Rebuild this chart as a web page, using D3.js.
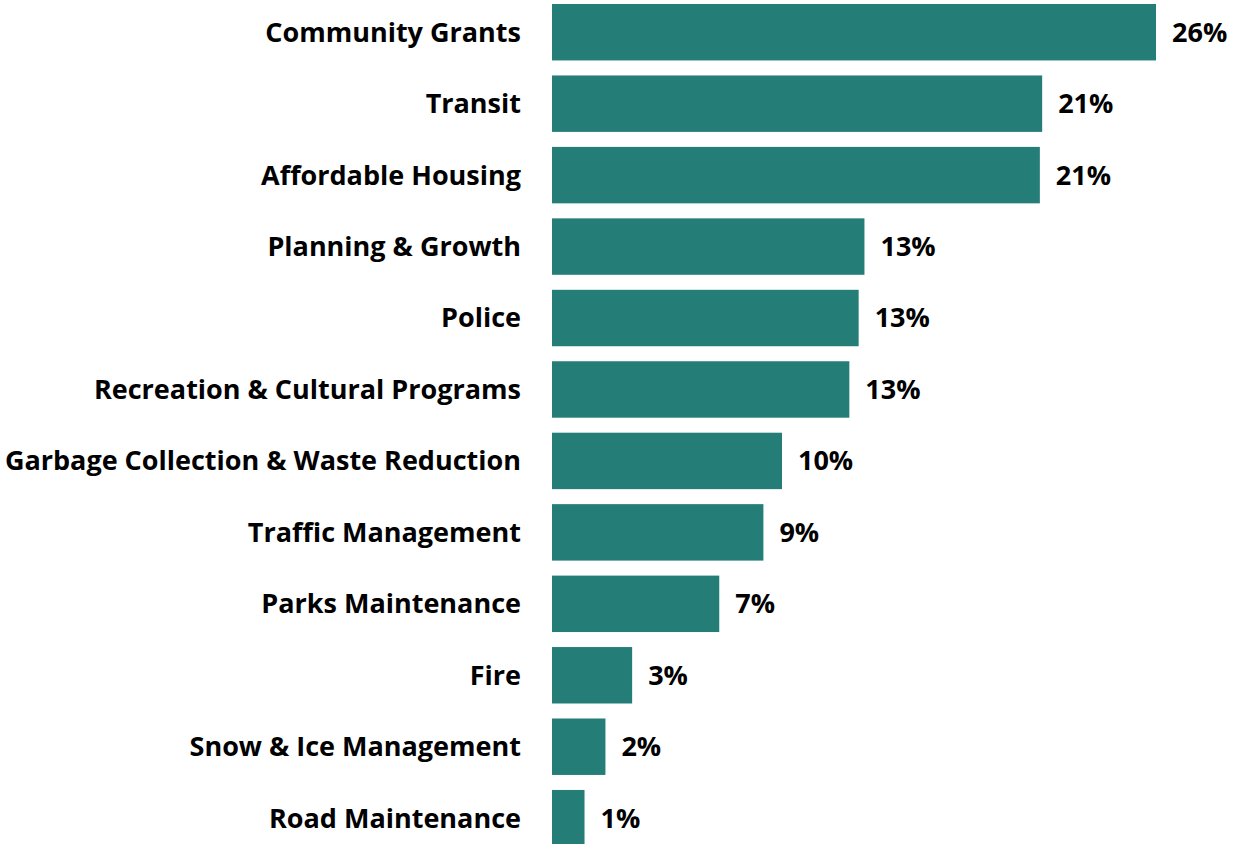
<!DOCTYPE html>
<html>
<head>
<meta charset="utf-8">
<script src="https://cdn.jsdelivr.net/npm/d3@7"></script>
<style>
  html, body { margin: 0; padding: 0; background: #fff; }
  svg text { font-family: "Open Sans", "Noto Sans", sans-serif; font-weight: bold; fill: #000; }
</style>
</head>
<body>
<script>
// categories, top to bottom
var categories = [
  'Community Grants', 'Transit', 'Affordable Housing', 'Planning & Growth',
  'Police', 'Recreation & Cultural Programs', 'Garbage Collection & Waste Reduction',
  'Traffic Management', 'Parks Maintenance', 'Fire', 'Snow & Ice Management',
  'Road Maintenance'
];
// share of respondents (%)
var values = [26.0, 21.1, 21.0, 13.45, 13.2, 12.8, 9.9, 9.1, 7.2, 3.45, 2.3, 1.4];

var Chart = {
  w : 1243,
  h : 844,
  barLeft : 552,
  barColor : '#257d78',
  fontSize : 27
};

Chart.draw = function() {
  var svg = d3.select('body').append('svg')
              .attr('width', this.w)
              .attr('height', this.h);

  var x = d3.scaleLinear().domain([0, 26]).range([this.barLeft, 1156]);

  var step = 71.45;
  var y = d3.scaleBand()
            .domain(categories)
            .range([4 - 0.105 * step, 4 - 0.105 * step + categories.length * step])
            .paddingInner(0.21)
            .paddingOuter(0.105);

  var rows = svg.selectAll('g.row')
                .data(categories)
                .enter()
                .append('g')
                .attr('class', 'row');

  rows.append('rect')
      .attr('x', x(0))
      .attr('y', function(d) { return y(d); })
      .attr('width', function(d, i) { return x(values[i]) - x(0); })
      .attr('height', y.bandwidth())
      .attr('fill', Chart.barColor);

  // category names, right-aligned against the bars
  rows.append('text')
      .attr('x', x(0) - 31)
      .attr('y', function(d) { return y(d) + y.bandwidth() / 2; })
      .attr('dy', '0.35em')
      .attr('text-anchor', 'end')
      .style('font-size', Chart.fontSize + 'px')
      .text(function(d) { return d; });

  // value labels
  rows.append('text')
      .attr('x', function(d, i) { return x(values[i]) + 16; })
      .attr('y', function(d) { return y(d) + y.bandwidth() / 2; })
      .attr('dy', '0.35em')
      .style('font-size', Chart.fontSize + 'px')
      .text(function(d, i) { return Math.round(values[i]) + '%'; });
};

Chart.draw();
</script>
</body>
</html>
